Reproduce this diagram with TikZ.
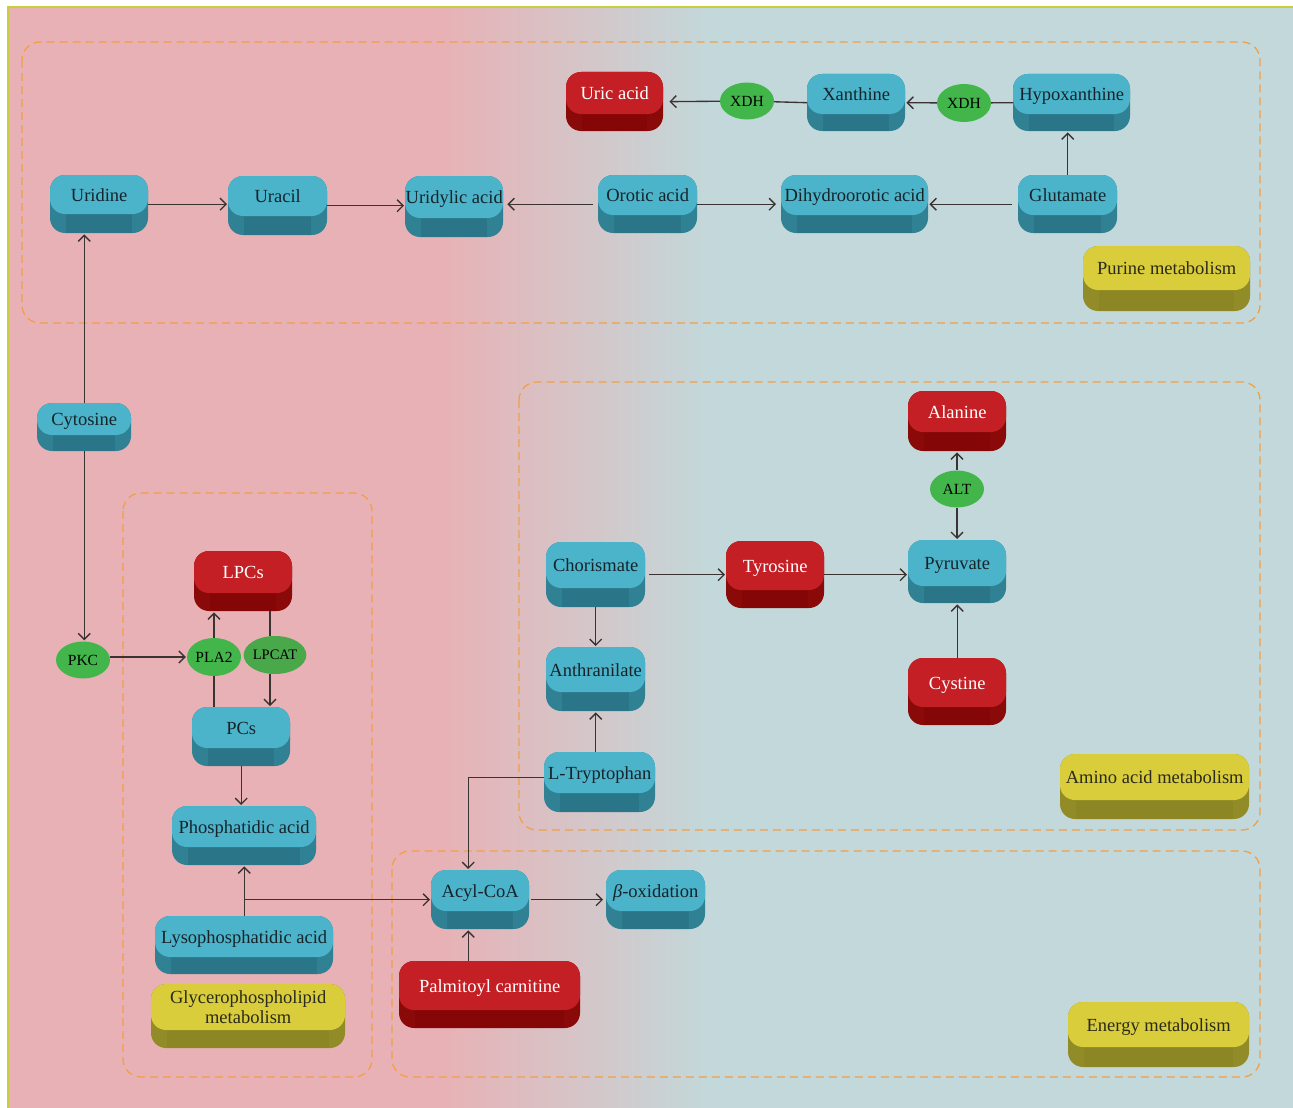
\documentclass[tikz,border=0pt]{standalone}
\usepackage{fontspec}
\setmainfont{Liberation Serif}
\usetikzlibrary{arrows.meta,shapes.geometric,calc}
\definecolor{pinkbg}{HTML}{E8B1B5}
\definecolor{bluebg}{HTML}{C3D8DA}
\definecolor{framec}{HTML}{C8CE3E}
\definecolor{dashc}{HTML}{F2A047}
\definecolor{linec}{HTML}{3B3232}
\definecolor{greenc}{HTML}{42B64A}
\definecolor{greenc2}{HTML}{49A84A}
\definecolor{bL}{HTML}{4BB3CA}
\definecolor{bD}{HTML}{2F8193}
\definecolor{bM}{HTML}{2A7688}
\definecolor{bT}{HTML}{16242A}
\definecolor{rL}{HTML}{C41F24}
\definecolor{rD}{HTML}{8A0A0A}
\definecolor{rM}{HTML}{840606}
\definecolor{rT}{HTML}{FFFFFF}
\definecolor{yL}{HTML}{D9CD3B}
\definecolor{yD}{HTML}{918C27}
\definecolor{yM}{HTML}{8C8724}
\definecolor{yT}{HTML}{2A2A1A}
\newcommand\boxfont{\fontsize{18.5}{20}\selectfont}
\newcommand\enzfont{\fontsize{15.5}{17}\selectfont}
\tikzset{
  boxtext/.style={anchor=north west, inner sep=0pt, font=\boxfont},
  enz/.style={ellipse, fill=greenc, minimum width=54pt, minimum height=37pt, inner sep=0pt, font=\enzfont, text=black},
  grp/.style={draw=dashc, line width=1.3pt, dash pattern=on 8pt off 5pt, rounded corners=18pt},
  ln/.style={draw=linec, line width=1.35pt},
  arr/.style={draw=linec, line width=1.35pt, -{Straight Barb[length=6pt,width=12pt]}, shorten >=1pt}
}
% #1 name, #2 x1, #3 y1, #4 x2, #5 y2, #6 face height, #7 colour prefix, #8 text
\newcommand{\pwnode}[8]{%
  \pgfmathsetmacro\pwW{#4-#2}%
  \pgfmathsetmacro\pwA{#6/2+6.5}%
  \pgfmathsetmacro\pwB{#5-#3-\pwA}%
  \fill[#7D, rounded corners=15pt] (#2,#3) rectangle (#4,#5);
  \fill[#7M] ({#2+16},{#3+#6-14}) rectangle ({#4-16},#5);
  \fill[#7L, rounded corners=15pt] (#2,#3) rectangle (#4,{#3+#6});
  \node[boxtext, text=#7T, minimum width=\pwW pt, text height=\pwA pt, text depth=\pwB pt] (#1) at (#2,#3) {#8};
}
\begin{document}
\begin{tikzpicture}[x=1pt,y=-1pt]
\useasboundingbox (0,0) rectangle (1293,1108);
\fill[white] (0,0) rectangle (1293,1108);
% background
\fill[pinkbg] (8,7) rectangle (441,1108);
\shade[left color=pinkbg, right color=bluebg, shading angle=90] (440,7) rectangle (711,1108);
\fill[bluebg] (710,7) rectangle (1293,1108);
\draw[framec, line width=2pt] (8,1108) -- (8,7) -- (1293,7);
% group boxes
\draw[grp] (22,42) rectangle (1260,323);
\draw[grp] (123,493) rectangle (372,1077);
\draw[grp] (519,382) rectangle (1260,830);
\draw[grp] (392,851) rectangle (1260,1077);
% purine / pyrimidine
\pwnode{uricacid}{566}{72}{663}{131}{42}{r}{Uric acid}
\pwnode{xanthine}{807}{74}{905}{131}{40}{b}{Xanthine}
\pwnode{hypox}{1013}{74}{1130}{131}{40}{b}{Hypoxanthine}
\pwnode{uridine}{50}{175}{148}{233}{39}{b}{Uridine}
\pwnode{uracil}{228}{176}{327}{235}{40}{b}{Uracil}
\pwnode{uridylic}{405}{176}{503}{237}{42}{b}{Uridylic acid}
\pwnode{orotic}{598}{175}{697}{233}{40}{b}{Orotic acid}
\pwnode{dihydro}{781}{175}{928}{233}{40}{b}{Dihydroorotic acid}
\pwnode{glutamate}{1018}{175}{1117}{233}{40}{b}{Glutamate}
\pwnode{purine}{1083}{246}{1250}{311}{44}{y}{Purine metabolism}
\node[enz] (xdh1) at (747,101) {XDH};
\node[enz, minimum height=38pt] (xdh2) at (964,103) {XDH};
% glycerophospholipid
\pwnode{cytosine}{37}{403}{131}{451}{32}{b}{Cytosine}
\pwnode{lpcs}{194}{551}{292}{611}{42}{r}{LPCs}
\pwnode{pcs}{192}{707}{290}{766}{41}{b}{PCs}
\pwnode{phos}{172}{806}{316}{865}{41}{b}{Phosphatidic acid}
\pwnode{lyso}{155}{916}{333}{974}{41}{b}{Lysophosphatidic acid}
\pwnode{glycero}{151}{984}{345}{1048}{46}{y}{\raisebox{10.5pt}[0pt][0pt]{\begin{tabular}[t]{@{}c@{}}Glycerophospholipid\\metabolism\end{tabular}}}
\node[enz] (pkc) at (83,660) {PKC};
\node[enz, minimum height=38pt] (pla2) at (214,657) {PLA2};
\node[enz, fill=greenc2, minimum width=51pt, minimum height=38pt, font=\fontsize{14.5}{16}\selectfont] (lpcat) at (275,655) {LPCAT};
% amino acid
\pwnode{alanine}{908}{391}{1006}{451}{41}{r}{Alanine}
\pwnode{pyr}{908}{540}{1006}{603}{46}{b}{Pyruvate}
\pwnode{chor}{546}{542}{645}{607}{46}{b}{Chorismate}
\pwnode{tyr}{726}{541}{824}{608}{49}{r}{Tyrosine}
\pwnode{cys}{908}{658}{1006}{725}{49}{r}{Cystine}
\pwnode{anth}{546}{647}{645}{711}{45}{b}{Anthranilate}
\pwnode{ltrp}{544}{752}{655}{812}{41}{b}{L-Tryptophan}
\pwnode{amino}{1060}{754}{1249}{819}{46}{y}{Amino acid metabolism}
\node[enz] (alt) at (957,489) {ALT};
% energy
\pwnode{acyl}{431}{870}{529}{929}{41}{b}{Acyl-CoA}
\pwnode{beta}{606}{870}{705}{929}{41}{b}{\textit{β}-oxidation}
\pwnode{palm}{399}{961}{580}{1028}{49}{r}{Palmitoyl carnitine}
\pwnode{energy}{1068}{1002}{1249}{1067}{45}{y}{Energy metabolism}
% connectors
\draw[arr] (uridine.east) -- (uridine.east -| uracil.west);
\draw[arr] (uracil.east) -- (uracil.east -| uridylic.west);
\draw[arr, shorten >=4pt] ([xshift=-5pt]orotic.west) -- (orotic.west -| uridylic.east);
\draw[arr, shorten >=5pt] (orotic.east) -- (orotic.east -| dihydro.west);
\draw[arr] ([xshift=-6pt]glutamate.west) -- (glutamate.west -| dihydro.east);
\draw[arr] (glutamate.north) -- (glutamate.north |- hypox.south);
\draw[ln] (hypox.west) -- (xdh2);
\draw[arr] (xdh2) -- (xanthine.east);
\draw[ln] (xanthine.west) -- (xdh1);
\draw[arr, shorten >=6pt] (xdh1) -- (uricacid.east);
\draw[arr] (cytosine.north) -- (cytosine.north |- uridine.south);
\draw[arr] (cytosine.south) -- (cytosine.south |- pkc.north);
\draw[arr] (pkc.east |- pla2) -- (pla2.west);
\draw[ln] (pla2.south |- pcs.north) -- (pla2.south);
\draw[arr] (pla2.north) -- (pla2.north |- lpcs.south);
\coordinate (lpx) at ([xshift=-5pt]lpcat.north);
\coordinate (lpy) at ([xshift=-5pt]lpcat.south);
\draw[ln] (lpx |- lpcs.south) -- (lpx);
\draw[arr] (lpy) -- (lpy |- pcs.north);
\draw[arr] (pcs.south) -- (pcs.south |- phos.north);
\draw[arr] (lyso.north) -- (lyso.north |- phos.south);
\draw[arr] (lyso.north |- acyl.west) -- (acyl.west);
\coordinate (acT) at ([xshift=-12pt]acyl.north);
\coordinate (acB) at ([xshift=-12pt]acyl.south);
\draw[arr] ([yshift=5pt]ltrp.west) -| (acT);
\draw[arr] (anth.south |- ltrp.north) -- (anth.south);
\draw[arr] (chor.south) -- (chor.south |- anth.north);
\draw[arr] ([xshift=4pt]chor.east) -- (chor.east -| tyr.west);
\draw[arr] (tyr.east) -- (tyr.east -| pyr.west);
\draw[arr] (alt) -- (alt.north |- alanine.south);
\draw[arr] (alt) -- (alt.south |- pyr.north);
\draw[arr] (cys.north) -- (cys.north |- pyr.south);
\draw[arr, shorten >=3pt] ([xshift=2pt]acyl.east) -- (acyl.east -| beta.west);
\draw[arr] (palm.north -| acB) -- (acB);
\end{tikzpicture}
\end{document}
